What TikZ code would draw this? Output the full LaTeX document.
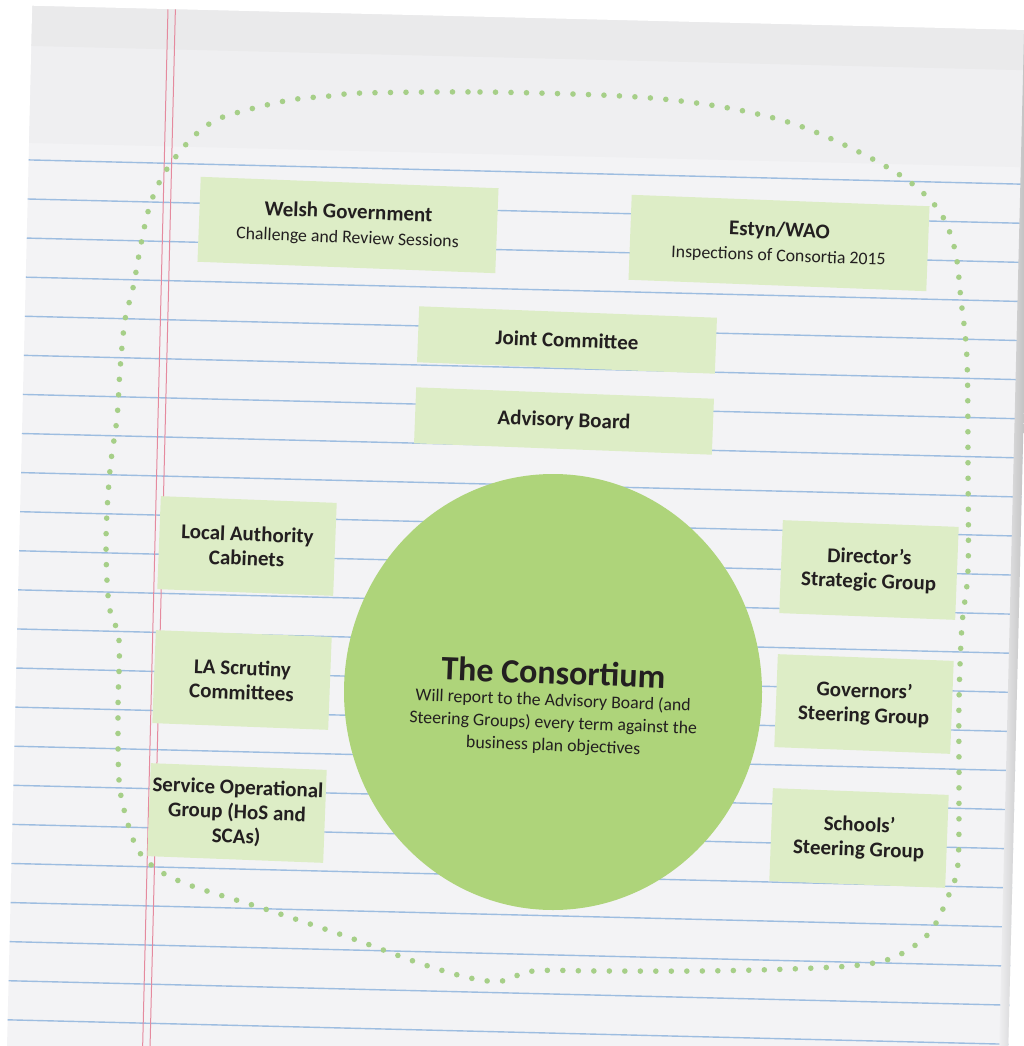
\documentclass[tikz,border=0pt]{standalone}
\usepackage{fontspec}
\setmainfont{Carlito}
\usetikzlibrary{shapes.geometric}
\definecolor{boxfill}{HTML}{DDEDC6}
\definecolor{consfill}{HTML}{AED47A}
\definecolor{dotgreen}{HTML}{A6CF88}
\definecolor{inktext}{HTML}{231F20}
\definecolor{paperfill}{HTML}{F3F3F5}
\definecolor{headerfill}{HTML}{EFEFF1}
\definecolor{topband}{HTML}{EAEAEB}
\definecolor{ruleblue}{HTML}{9DBDE0}
\definecolor{marginred}{HTML}{E58A9E}
\tikzset{
  gbox/.style={fill=boxfill, text=inktext, align=center, inner sep=2pt, rotate=-2.2,
    font=\fontsize{21}{24.5}\selectfont\bfseries},
  widebox/.style={gbox, minimum width=298, minimum height=85},
  barbox/.style={gbox, minimum width=298, minimum height=56},
  sidebox/.style={gbox, minimum width=176, minimum height=93},
  consline/.style={text=inktext, rotate=-2.2, inner sep=0pt, anchor=base, font=\fontsize{17.8}{21}\selectfont},
  ruleline/.style={draw=ruleblue, line width=1.4pt},
  marginline/.style={draw=marginred, line width=1pt},
  dotline/.style={draw=dotgreen, line width=5.6pt, line cap=round, dash pattern=on 0pt off 15.5pt},
}
\newcommand{\subfnt}{\fontsize{17.8}{24}\selectfont\mdseries}
\begin{document}
\begin{tikzpicture}[x=1pt,y=-1pt]
\useasboundingbox (0,0) rectangle (1023,1046);
\fill[white] (0,0) rectangle (1023,1046);
% paper
\begin{scope}[rotate around={-1.4:(520,520)}]
  \fill[paperfill] (20,18) rectangle (1021,1120);
  \fill[headerfill] (20,18) rectangle (1021,155);
  \fill[topband] (20,18) rectangle (1021,58);
  \foreach \k in {0,...,23} {
    \draw[ruleline] (20,{172+39.1*\k}) -- (1021,{172+39.1*\k});
  }
  \draw[marginline] (155.6,18) -- (155.6,1120);
  \draw[marginline] (163,18) -- (163,1120);
  \shade[left color=paperfill, right color=black!30] (1012,18) rectangle (1021,1120);
\end{scope}
% dotted outline
\draw[dotline] plot[smooth cycle, tension=0.55] coordinates {
  (363,93) (480,92) (600,95) (672,100) (739,110) (800,126) (863,154) (910,182)
  (940,212) (955,250) (961,300) (967,360) (968,470) (968,570) (962,625)
  (959,700) (959,787) (958,863) (950,892) (930,932) (897,956) (860,965)
  (790,969) (700,971) (600,971) (533,971) (502,981) (470,978) (419,963)
  (348,937) (265,909) (192,886) (158,870) (138,850) (126,817) (119,780)
  (118,708) (119,640) (109,605) (106,540) (110,470) (117,418) (120,370)
  (125,320) (133,288) (141,244) (150,205) (165,172) (190,140) (214,121)
  (243,111) (290,100) (330,96)
};
% boxes
\node[widebox] (wg) at (348,225) {Welsh Government\\{\subfnt Challenge and Review Sessions}};
\node[widebox] (estyn) at (779,243) {Estyn/WAO\\{\subfnt Inspections of Consortia 2015}};
\node[barbox] (jc) at (567,340) {Joint Committee};
\node[barbox] (ab) at (564,421) {Advisory Board};
\node[sidebox] (lac) at (247,546) {Local Authority\\Cabinets};
\node[sidebox] (las) at (242,680) {LA Scrutiny\\Committees};
\node[sidebox] (sog) at (237,813) {Service Operational\\Group (HoS and\\SCAs)};
\node[sidebox] (dsg) at (869,570) {Director’s\\Strategic Group};
\node[sidebox] (gsg) at (864,704) {Governors’\\Steering Group};
\node[sidebox] (ssg) at (859,838) {Schools’\\Steering Group};
% consortium
\node[ellipse, fill=consfill, minimum width=418, minimum height=436, inner sep=0pt] (cons) at (553,692) {};
\node[text=inktext, rotate=-2.2, inner sep=0pt, anchor=base, font=\fontsize{34}{36}\selectfont\bfseries] (constitle) at (553,684) {The Consortium};
\node[consline] (consline1) at (553,706) {Will report to the Advisory Board (and};
\node[consline] (consline2) at (553,728.5) {Steering Groups) every term against the};
\node[consline] (consline3) at (553,751) {business plan objectives};
\end{tikzpicture}
\end{document}
